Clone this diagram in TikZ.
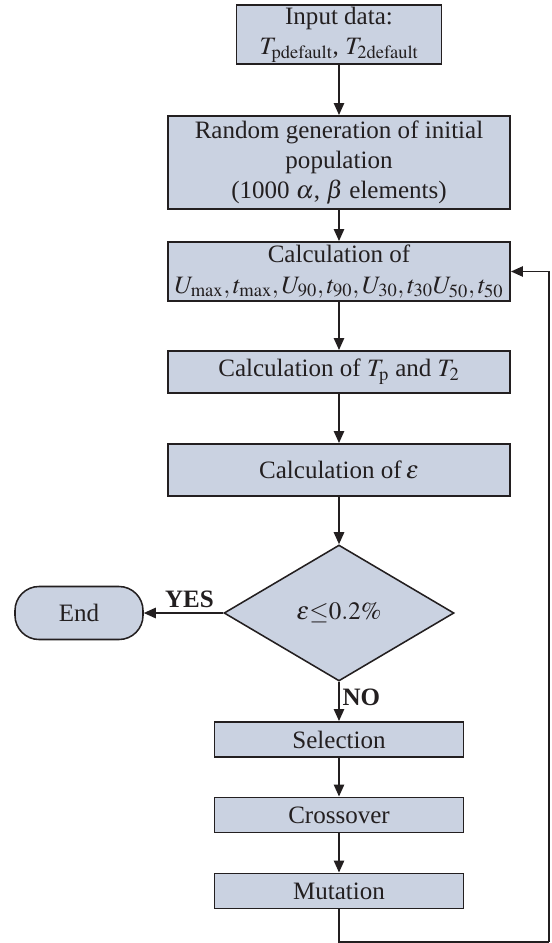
\documentclass[tikz,border=0pt]{standalone}
\usepackage{mathptmx}
\usepackage{fontspec}
\setmainfont{Liberation Serif}
\usetikzlibrary{arrows.meta, shapes.geometric}
\definecolor{boxfill}{RGB}{202,210,225}
\definecolor{inkdark}{RGB}{35,31,32}

\begin{document}
\begin{tikzpicture}[>={Triangle[length=0.3cm, width=0.26cm]},
    font=\fontsize{17.8}{21.5}\selectfont, text=inkdark,
    step_box/.style={
        draw=inkdark, line width=1.4pt, fill=boxfill,
        align=center, inner sep=0pt, minimum width=8.55cm
    },
    ga_box/.style={
        draw=inkdark, line width=1.4pt, fill=boxfill,
        inner sep=0pt, minimum width=6.225cm, minimum height=0.875cm
    },
    test/.style={
        diamond, draw=inkdark, line width=1.1pt, fill=boxfill,
        inner sep=0pt, minimum width=5.75cm, minimum height=3.4cm
    },
    terminal/.style={
        draw=inkdark, line width=1.1pt, fill=boxfill, rounded corners=0.6cm,
        inner sep=0pt, minimum width=3.2cm, minimum height=1.325cm
    },
    signal/.style={->, line width=1.1pt, draw=inkdark},
    wire/.style={-, line width=1.1pt, draw=inkdark},
    answer/.style={font=\fontsize{17.8}{21.5}\selectfont\bfseries},
]

% --- Marco ---
\useasboundingbox (0,0) rectangle (13.8,-23.575);

% --- Coordenadas ---
\def\xc{8.475}
\def\xend{1.975}
\def\xloopR{13.725}
\def\yloop{-23.55}

% --- Cadena principal ---
\node[step_box, minimum width=5.125cm, minimum height=1.475cm] (input) at (\xc,-0.8625)
    {Input data:\\ $T_{\mathrm{pdefault}}$, $T_{\mathrm{2default}}$};
\node[step_box, minimum height=2.325cm] (init) at (\xc,-4.0625)
    {Random generation of initial\\ population\\ (1000 $\alpha$, $\beta$ elements)};
\node[step_box, minimum height=1.475cm] (calc) at (\xc,-6.7875)
    {Calculation of\\ $U_{\max},t_{\max},U_{90},t_{90},U_{30},t_{30}U_{50},t_{50}$};
\node[step_box, minimum height=1.05cm] (calcT) at (\xc,-9.3)
    {Calculation of $T_{\mathrm{p}}$ and $T_2$};
\node[step_box, minimum height=1.3cm] (calcE) at (\xc,-11.75)
    {Calculation of\,$\epsilon$};
\node[test] (check) at (\xc,-15.325) {$\epsilon{\leq}0.2\%$};
\node[terminal] (stop) at (\xend,-15.325) {End};

% --- Operadores geneticos ---
\node[ga_box] (sel)   at (\xc,-18.4875) {Selection};
\node[ga_box] (cross) at (\xc,-20.375)  {Crossover};
\node[ga_box] (mut)   at (\xc,-22.275)  {Mutation};

% --- Flechas ---
\draw[signal] (input) -- (init);
\draw[signal] (init) -- (calc);
\draw[signal] (calc) -- (calcT);
\draw[signal] (calcT) -- (calcE);
\draw[signal] (calcE) -- (check);
\draw[signal] (check.west) -- (stop.east)
    node[answer, above, midway, xshift=0.15cm] {YES};
\draw[signal] (check.south) -- (sel.north)
    node[answer, right, pos=0.4, inner sep=2pt] {NO};
\draw[signal] (sel) -- (cross);
\draw[signal] (cross) -- (mut);

% --- Lazo de realimentacion ---
\coordinate (loop_bl) at (\xc,\yloop);
\coordinate (loop_br) at (\xloopR,\yloop);
\draw[wire] (mut.south) -- (loop_bl) -- (loop_br);
\draw[signal] (loop_br) |- (calc.east);

\end{tikzpicture}
\end{document}
